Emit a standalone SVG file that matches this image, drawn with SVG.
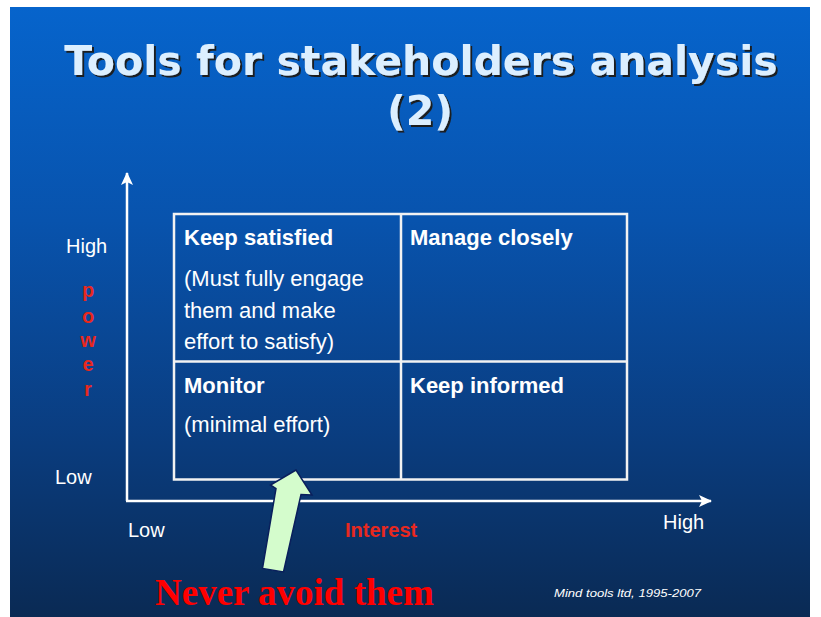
<svg xmlns="http://www.w3.org/2000/svg" width="821" height="617" viewBox="0 0 821 617">
  <defs>
    <linearGradient id="bg" x1="0" y1="0" x2="0" y2="1">
      <stop offset="0" stop-color="#0664cc"/>
      <stop offset="0.35" stop-color="#0853ad"/>
      <stop offset="0.7" stop-color="#0a3d80"/>
      <stop offset="1" stop-color="#0a2a54"/>
    </linearGradient>
    <filter id="shadow" x="-5%" y="-20%" width="110%" height="140%">
      <feDropShadow dx="2" dy="2" stdDeviation="0.6" flood-color="#1e1608" flood-opacity="0.9"/>
    </filter>
    <marker id="ah" markerWidth="14" markerHeight="12" refX="12" refY="6" orient="auto" markerUnits="userSpaceOnUse">
      <path d="M0,0 L13,6 L0,12 L3,6 Z" fill="#ffffff"/>
    </marker>
    <style>
      .title { font-family: "DejaVu Sans", Verdana, sans-serif; font-weight: bold; font-size: 41px; text-anchor: middle; fill: #dcefff; filter: url(#shadow); }
      .axis { stroke: #ffffff; stroke-width: 2.5; fill: none; }
      .grid { stroke: #f2f2f2; stroke-width: 2.5; fill: none; }
      .head { font-family: "Liberation Sans", Arial, sans-serif; font-weight: bold; font-size: 22px; fill: #ffffff; }
      .body { font-family: "Liberation Sans", Arial, sans-serif; font-size: 22px; fill: #ffffff; }
      .lbl { font-family: "Liberation Sans", Arial, sans-serif; font-size: 20px; fill: #ffffff; }
      .red { font-family: "Liberation Sans", Arial, sans-serif; font-weight: bold; font-size: 20px; fill: #e8281e; }
      .never { font-family: "Liberation Serif", "Times New Roman", serif; font-weight: bold; font-size: 37px; fill: #ff0000; }
      .credit { font-family: "Liberation Sans", Arial, sans-serif; font-style: italic; font-size: 11.5px; fill: #ffffff; }
    </style>
  </defs>

  <rect x="10" y="7" width="800" height="610" fill="url(#bg)"/>

  <g id="title">
    <text class="title" x="421" y="75">Tools for stakeholders analysis</text>
    <text class="title" x="420" y="125">(2)</text>
  </g>

  <g id="connectors">
    <line class="axis" x1="127" y1="501" x2="127" y2="173" marker-end="url(#ah)"/>
    <line class="axis" x1="126" y1="501" x2="711" y2="501" marker-end="url(#ah)"/>
  </g>

  <g id="grid">
    <rect class="grid" x="174" y="214" width="453" height="265.5"/>
    <line class="grid" x1="401" y1="214" x2="401" y2="479.5"/>
    <line class="grid" x1="174" y1="361.5" x2="627" y2="361.5"/>
  </g>

  <g id="keep-satisfied">
    <text class="head" x="184" y="245">Keep satisfied</text>
    <text class="body" x="184" y="286">(Must fully engage</text>
    <text class="body" x="184" y="317.5">them and  make</text>
    <text class="body" x="184" y="349">effort to satisfy)</text>
  </g>
  <g id="manage-closely">
    <text class="head" x="410" y="245">Manage closely</text>
  </g>
  <g id="monitor">
    <text class="head" x="184" y="393">Monitor</text>
    <text class="body" x="184" y="431.5">(minimal effort)</text>
  </g>
  <g id="keep-informed">
    <text class="head" x="410" y="393">Keep informed</text>
  </g>

  <g id="power-axis-labels">
    <text class="lbl" x="66" y="253">High</text>
    <text class="lbl" x="55" y="484">Low</text>
    <text class="red" x="88" y="297" text-anchor="middle">p</text>
    <text class="red" x="88" y="323" text-anchor="middle">o</text>
    <text class="red" x="88" y="347" text-anchor="middle">w</text>
    <text class="red" x="88" y="371" text-anchor="middle">e</text>
    <text class="red" x="88" y="396" text-anchor="middle">r</text>
  </g>

  <g id="interest-axis-labels">
    <text class="lbl" x="128" y="537">Low</text>
    <text class="red" x="345" y="537">Interest</text>
    <text class="lbl" x="663" y="529">High</text>
  </g>

  <g id="callout-arrow">
    <path d="M296,470 L270.5,485 L276,488.5 L262.5,568.5 L283.5,572 L301,494.5 L312,495 Z" fill="#d4fccc" stroke="#0a1f5c" stroke-width="1.5" stroke-linejoin="miter"/>
  </g>

  <g id="never-avoid">
    <text class="never" x="155" y="605">Never avoid them</text>
  </g>

  <g id="credit">
    <text class="credit" x="554" y="597" textLength="147" lengthAdjust="spacingAndGlyphs">Mind tools ltd, 1995-2007</text>
  </g>
</svg>
